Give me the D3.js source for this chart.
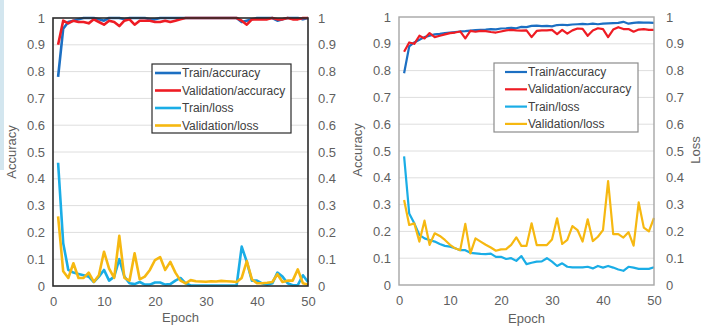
<!DOCTYPE html>
<html>
<head>
<meta charset="utf-8">
<script src="https://cdn.jsdelivr.net/npm/d3@7"></script>
<style>
	body { margin: 0; background: #fff; }
	svg { display: block; }
	.tick-label { font-family: "Liberation Sans", Arial, sans-serif; font-size: 13px; fill: #5f5f5f; }
	.axis-title { font-family: "Liberation Sans", Arial, sans-serif; font-size: 13px; fill: #5f5f5f; }
	.legend-text { font-family: "Liberation Sans", Arial, sans-serif; font-size: 12px; fill: #404040; }
</style>
</head>
<body>
<div id="chart"></div>
<script>
var epochs = d3.range(1, 51);
var xTicks = [0, 10, 20, 30, 40, 50];
var yTicks = [0, 0.1, 0.2, 0.3, 0.4, 0.5, 0.6, 0.7, 0.8, 0.9, 1];
var seriesNames = ["Train/accuracy", "Validation/accuracy", "Train/loss", "Validation/loss"];
var seriesColors = ["#1c6fc2", "#ee1c24", "#1aade6", "#f6b811"];

// left chart
var leftTrainAcc = [0.78, 0.96, 0.985, 0.99, 0.995, 1, 1, 1, 0.995, 0.99, 1, 1, 1, 0.995, 1, 1, 1, 1, 0.995, 0.995,
	1, 1, 1, 1, 1, 1, 1, 1, 1, 1, 1, 1, 1, 1, 1, 1, 0.985, 0.99, 0.995, 1,
	1, 1, 1, 0.99, 0.995, 1, 1, 1, 0.995, 1];
var leftValAcc = [0.90, 0.99, 0.98, 0.99, 0.985, 0.985, 0.98, 0.995, 0.985, 0.975, 0.99, 0.985, 0.97, 0.99, 0.995, 0.975, 0.99, 0.99, 0.99, 0.985,
	0.985, 0.99, 0.985, 0.99, 0.995, 1, 1, 1, 1, 1, 1, 1, 1, 1, 1, 1, 0.99, 0.975, 0.995, 0.995,
	0.995, 0.995, 1, 0.995, 0.995, 1, 0.995, 0.995, 1, 1];
var leftTrainLoss = [0.46, 0.16, 0.06, 0.05, 0.045, 0.04, 0.035, 0.015, 0.035, 0.06, 0.02, 0.035, 0.10, 0.035, 0.01, 0.007, 0.015, 0.005, 0.005, 0.013,
	0.013, 0.005, 0.007, 0.02, 0.03, 0.01, 0.002, 0.002, 0.002, 0.002, 0.002, 0.002, 0.002, 0.002, 0.002, 0.002, 0.147, 0.09, 0.02, 0.02,
	0.01, 0.005, 0.01, 0.05, 0.035, 0.01, 0.003, 0.003, 0.04, 0.015];
var leftValLoss = [0.26, 0.055, 0.03, 0.085, 0.03, 0.03, 0.05, 0.015, 0.04, 0.128, 0.065, 0.03, 0.187, 0.03, 0.02, 0.122, 0.025, 0.035, 0.06, 0.097,
	0.108, 0.06, 0.09, 0.05, 0.02, 0.01, 0.022, 0.018, 0.017, 0.016, 0.018, 0.017, 0.019, 0.018, 0.017, 0.015, 0.03, 0.093, 0.025, 0.01,
	0.01, 0.012, 0.015, 0.044, 0.015, 0.02, 0.02, 0.062, 0.01, 0.005];

// right chart
var rightTrainAcc = [0.79, 0.89, 0.905, 0.915, 0.925, 0.93, 0.935, 0.937, 0.94, 0.942, 0.944, 0.946, 0.947, 0.949, 0.951, 0.952, 0.953, 0.955, 0.954, 0.957,
	0.958, 0.96, 0.958, 0.963, 0.962, 0.967, 0.968, 0.966, 0.967, 0.965, 0.97, 0.971, 0.97, 0.972, 0.973, 0.974, 0.973, 0.975, 0.973, 0.975,
	0.976, 0.977, 0.978, 0.982, 0.975, 0.978, 0.98, 0.979, 0.979, 0.978];
var rightValAcc = [0.87, 0.905, 0.90, 0.93, 0.92, 0.94, 0.925, 0.93, 0.935, 0.94, 0.942, 0.946, 0.92, 0.948, 0.945, 0.948, 0.947, 0.944, 0.942, 0.946,
	0.95, 0.952, 0.95, 0.949, 0.95, 0.925, 0.948, 0.95, 0.95, 0.952, 0.936, 0.952, 0.938, 0.95, 0.957, 0.956, 0.93, 0.95, 0.958, 0.955,
	0.925, 0.953, 0.962, 0.955, 0.955, 0.945, 0.953, 0.955, 0.952, 0.952];
var rightTrainLoss = [0.48, 0.267, 0.23, 0.187, 0.174, 0.168, 0.162, 0.153, 0.146, 0.143, 0.137, 0.13, 0.13, 0.12, 0.118, 0.116, 0.115, 0.117, 0.105, 0.105,
	0.097, 0.1, 0.09, 0.108, 0.078, 0.083, 0.087, 0.088, 0.1, 0.087, 0.071, 0.081, 0.068, 0.066, 0.066, 0.066, 0.068, 0.062, 0.071, 0.065,
	0.071, 0.065, 0.058, 0.053, 0.068, 0.065, 0.06, 0.06, 0.06, 0.066];
var rightValLoss = [0.317, 0.224, 0.23, 0.162, 0.24, 0.15, 0.193, 0.183, 0.168, 0.15, 0.137, 0.13, 0.228, 0.118, 0.174, 0.162, 0.15, 0.14, 0.128, 0.133,
	0.134, 0.15, 0.178, 0.146, 0.146, 0.23, 0.149, 0.149, 0.149, 0.17, 0.249, 0.153, 0.168, 0.22, 0.205, 0.162, 0.245, 0.164, 0.18, 0.205,
	0.388, 0.19, 0.19, 0.177, 0.197, 0.147, 0.308, 0.214, 0.2, 0.25];

var svg = d3.select("#chart").append("svg")
	.attr("width", 710)
	.attr("height", 327);

// faint strip on the left edge of the scan
svg.append("rect").attr("x", 0).attr("y", 0).attr("width", 4).attr("height", 170).attr("fill", "#d3e6ef");

function drawPanel(p) {
	var x = d3.scaleLinear().domain([0, 50]).range([p.left, p.right]);
	var yL = d3.scaleLinear().domain([0, 1]).range([p.bottom, p.top]);
	var yR = d3.scaleLinear().domain([0, 1]).range([p.bottom, p.top]);
	var g = svg.append("g");

	// grid
	g.selectAll(".grid").data(yTicks.slice(1, -1)).enter().append("line")
		.attr("x1", p.left).attr("x2", p.right)
		.attr("y1", function(d){ return yL(d); })
		.attr("y2", function(d){ return yL(d); })
		.attr("stroke", "#dedede").attr("stroke-width", 1);

	// axes, no domain line or tick marks
	var axL = g.append("g").attr("transform", "translate(" + p.left + ",0)")
		.call(d3.axisLeft(yL).tickValues(yTicks).tickSize(0).tickPadding(p.padL).tickFormat(d3.format("~g")));
	var axR = g.append("g").attr("transform", "translate(" + p.right + ",0)")
		.call(d3.axisRight(yR).tickValues(yTicks).tickSize(0).tickPadding(p.padR).tickFormat(d3.format("~g")));
	var axX = g.append("g").attr("transform", "translate(0," + p.bottom + ")")
		.call(d3.axisBottom(x).tickValues(xTicks).tickSize(0).tickPadding(11));
	[axL, axR, axX].forEach(function(a){
		a.select(".domain").remove();
		a.selectAll("text").attr("class", "tick-label").attr("font-family", null).attr("font-size", null);
	});

	var line = function(yScale) {
		return d3.line()
			.x(function(d, i){ return x(epochs[i]); })
			.y(function(d){ return yScale(d); });
	};

	// loss first, accuracy on top
	var series = [
		{ data: p.trainLoss, color: seriesColors[2], y: yR },
		{ data: p.valLoss, color: seriesColors[3], y: yR },
		{ data: p.trainAcc, color: seriesColors[0], y: yL },
		{ data: p.valAcc, color: seriesColors[1], y: yL }
	];
	series.forEach(function(s){
		g.append("path")
			.datum(s.data)
			.attr("fill", "none")
			.attr("stroke", s.color)
			.attr("stroke-width", p.lineWidth)
			.attr("stroke-linejoin", "round")
			.attr("d", line(s.y));
	});

	// frame
	g.append("rect")
		.attr("x", p.left).attr("y", p.top)
		.attr("width", p.right - p.left).attr("height", p.bottom - p.top)
		.attr("fill", "none").attr("stroke", p.frame).attr("stroke-width", p.frameWidth);

	// titles
	g.append("text").attr("class", "axis-title")
		.attr("text-anchor", "middle")
		.attr("x", (p.left + p.right) / 2).attr("y", p.epochY)
		.text("Epoch");
	g.append("text").attr("class", "axis-title")
		.attr("text-anchor", "middle")
		.attr("transform", "translate(" + p.accX + "," + p.titleY + ") rotate(-90)")
		.text("Accuracy");
	if (p.lossX) {
		g.append("text").attr("class", "axis-title")
			.attr("text-anchor", "middle")
			.attr("transform", "translate(" + p.lossX + "," + p.titleY + ") rotate(-90)")
			.text("Loss");
	}

	// legend
	var lg = g.append("g");
	lg.append("rect")
		.attr("x", p.leg.x).attr("y", p.leg.y)
		.attr("width", p.leg.w).attr("height", p.leg.h)
		.attr("fill", "#fff").attr("stroke", p.leg.stroke).attr("stroke-width", 1.2);
	seriesNames.forEach(function(name, i){
		var yy = p.leg.y + 9 + i * p.leg.step;
		lg.append("line")
			.attr("x1", p.leg.x + p.leg.sw0).attr("x2", p.leg.x + p.leg.sw1)
			.attr("y1", yy).attr("y2", yy)
			.attr("stroke", seriesColors[i]).attr("stroke-width", p.lineWidth);
		lg.append("text").attr("class", "legend-text")
			.attr("x", p.leg.x + p.leg.sw1 + 1).attr("y", yy + 4)
			.text(name);
	});
}

drawPanel({
	left: 53, right: 308, top: 18, bottom: 286,
	padL: 8, padR: 10, lineWidth: 2.6, frame: "#2b2b2b", frameWidth: 1.6,
	epochY: 322, accX: 16, titleY: 152, lossX: null,
	trainAcc: leftTrainAcc, valAcc: leftValAcc, trainLoss: leftTrainLoss, valLoss: leftValLoss,
	leg: { x: 152, y: 64, w: 139, h: 69, step: 17.5, sw0: 3, sw1: 29, stroke: "#2b2b2b" }
});

drawPanel({
	left: 399, right: 654, top: 17, bottom: 285,
	padL: 8, padR: 12, lineWidth: 2.2, frame: "#a6a6a6", frameWidth: 1.4,
	epochY: 323, accX: 362, titleY: 150, lossX: 700,
	trainAcc: rightTrainAcc, valAcc: rightValAcc, trainLoss: rightTrainLoss, valLoss: rightValLoss,
	leg: { x: 494, y: 63, w: 144, h: 69, step: 17.3, sw0: 11, sw1: 33, stroke: "#8c8c8c" }
});
</script>
</body>
</html>
